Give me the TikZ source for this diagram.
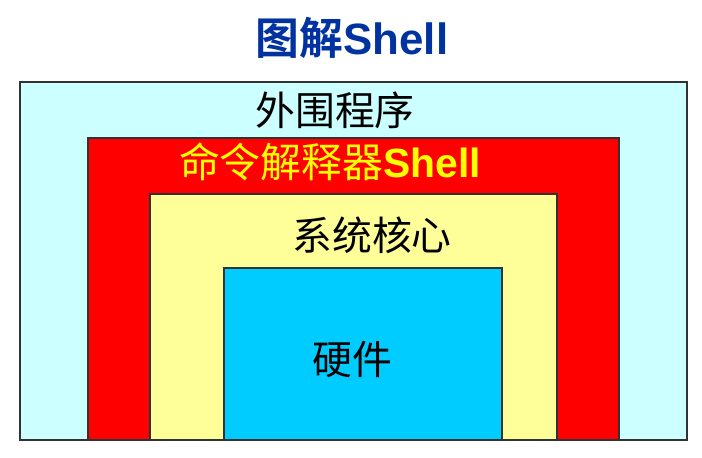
\documentclass[tikz,border=0pt]{standalone}
\usepackage{fontspec}
\setmainfont{Liberation Sans}
\newfontfamily\cjk{Noto Sans CJK SC}[BoldFont={Noto Sans CJK SC Bold}]
\definecolor{outerc}{RGB}{204,255,255}
\definecolor{shellc}{RGB}{255,0,0}
\definecolor{kernc}{RGB}{255,255,153}
\definecolor{hwc}{RGB}{0,204,255}
\definecolor{titlec}{RGB}{0,51,160}
\definecolor{edgec}{RGB}{50,50,50}
\definecolor{shelltxt}{RGB}{255,255,0}
\tikzset{
  layer/.style={draw=edgec, line width=1.2bp},
  lbl/.style={anchor=base, inner sep=0pt, font=\fontsize{40}{48}\selectfont},
}
\begin{document}
\begin{tikzpicture}[x=1bp,y=-1bp]
\useasboundingbox (0,0) rectangle (702,458);
\fill[white] (0,0) rectangle (702,458);
\draw[layer, fill=outerc] (20,82) rectangle (687,440);
\draw[layer, fill=shellc] (88,138) rectangle (619,440);
\draw[layer, fill=kernc] (150,194) rectangle (557,440);
\draw[layer, fill=hwc] (224,268) rectangle (502,440);
\node[lbl, font=\fontsize{44}{52}\selectfont\bfseries, text=titlec] (title) at (352,55) {{\cjk 图解}Shell};
\node[lbl] (outer) at (335,126) {\cjk 外围程序};
\node[lbl, font=\fontsize{41}{48}\selectfont, text=shelltxt] (shell) at (330,178) {{\cjk 命令解释器}\textbf{Shell}};
\node[lbl] (kernel) at (372,251) {\cjk 系统核心};
\node[lbl] (hw) at (352,374) {\cjk 硬件};
\end{tikzpicture}
\end{document}
